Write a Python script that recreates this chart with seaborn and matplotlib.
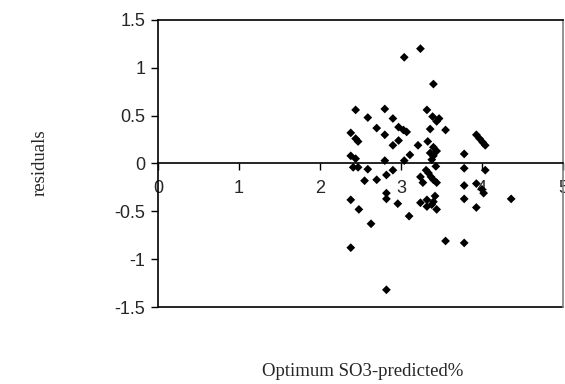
import matplotlib
matplotlib.use("Agg")
import matplotlib.pyplot as plt
import seaborn as sns
import pandas as pd

predicted = [3.24, 3.04, 3.40, 2.44, 2.80, 2.59, 2.90, 3.32, 3.39, 3.44, 3.47, 3.55, 3.36, 2.70,
             2.97, 3.03, 3.07, 2.80, 2.38, 2.44, 2.47, 2.97, 2.90, 3.21, 3.33, 3.40, 3.36, 3.44,
             3.40, 3.11, 3.04, 2.80, 2.38, 2.44, 3.78, 3.93, 3.97, 4.01, 4.04, 2.41, 2.47, 2.59,
             3.38, 3.43, 3.78, 2.90, 2.82, 2.70, 2.55, 3.31, 3.34, 3.37, 3.40, 3.44, 3.24, 3.27,
             3.78, 3.93, 4.00, 4.02, 4.04, 3.93, 4.36, 2.38, 2.48, 2.63, 2.38, 2.82, 2.82, 2.96,
             3.10, 2.82, 3.24, 3.32, 3.32, 3.38, 3.42, 3.40, 3.44, 3.55, 3.78, 3.78]
residuals = [1.20, 1.11, 0.83, 0.56, 0.57, 0.48, 0.47, 0.56, 0.49, 0.44, 0.47, 0.35, 0.36, 0.37,
             0.38, 0.35, 0.33, 0.30, 0.32, 0.26, 0.23, 0.24, 0.19, 0.19, 0.23, 0.17, 0.11, 0.13,
             0.08, 0.09, 0.03, 0.03, 0.08, 0.05, 0.10, 0.30, 0.26, 0.22, 0.19, -0.04, -0.04, -0.06,
             0.04, -0.03, -0.05, -0.07, -0.12, -0.17, -0.18, -0.07, -0.10, -0.14, -0.17, -0.20, -0.14, -0.20,
             -0.23, -0.21, -0.27, -0.31, -0.07, -0.46, -0.37, -0.38, -0.48, -0.63, -0.88, -0.31, -0.37, -0.42,
             -0.55, -1.32, -0.41, -0.38, -0.45, -0.43, -0.34, -0.40, -0.48, -0.81, -0.83, -0.37]

x_ticks = [0, 1, 2, 3, 4, 5]
x_tick_labels = ["0", "1", "2", "3", "4", "5"]
y_ticks = [-1.5, -1.0, -0.5, 0.0, 0.5, 1.0, 1.5]
y_tick_labels = ["-1.5", "-1", "-0.5", "0", "0.5", "1", "1.5"]
x_label = "Optimum SO3-predicted%"
y_label = "residuals"

sns.set_style("white")
plt.rcParams["font.family"] = ["Liberation Sans", "DejaVu Sans"]
plt.rcParams["axes.unicode_minus"] = False

df = pd.DataFrame({"predicted": predicted, "residuals": residuals})

fig = plt.figure(figsize=(5.65, 3.84), dpi=100)
ax = fig.add_axes([0.2796, 0.2005, 0.9965 - 0.2796, 0.948 - 0.2005])

sns.scatterplot(data=df, x="predicted", y="residuals", marker="D", color="black",
                edgecolor="none", s=20, ax=ax, zorder=3, clip_on=False)

ax.set_xlim(0, 5)
ax.set_ylim(-1.5, 1.5)
ax.set_xticks(x_ticks, labels=x_tick_labels)
ax.set_yticks(y_ticks, labels=y_tick_labels)
ax.set_xlabel("")
ax.set_ylabel("")

for s in ["left", "top", "right", "bottom"]:
    ax.spines[s].set_visible(True)
    ax.spines[s].set_linewidth(1.2)
    ax.spines[s].set_color("black")
ax.spines["right"].set_color("#808080")
ax.spines["bottom"].set_position(("data", 0))
ax.axhline(-1.5, color="black", linewidth=1.2, clip_on=False, zorder=2)

ax.tick_params(axis="both", which="both", direction="out", length=5, width=1,
               color="black", labelsize=13, bottom=True, left=True)
ax.tick_params(axis="x", pad=7)
ax.tick_params(axis="y", pad=4)

fig.text(363 / 565, 1 - 372 / 384, x_label, ha="center", va="center",
         fontsize=13.5, family=["Liberation Serif", "DejaVu Serif"])
fig.text(40 / 565, 1 - 163 / 384, y_label, ha="center", va="center", rotation=90,
         fontsize=13.5, family=["Liberation Serif", "DejaVu Serif"])

fig.savefig("out.png", dpi=100)
